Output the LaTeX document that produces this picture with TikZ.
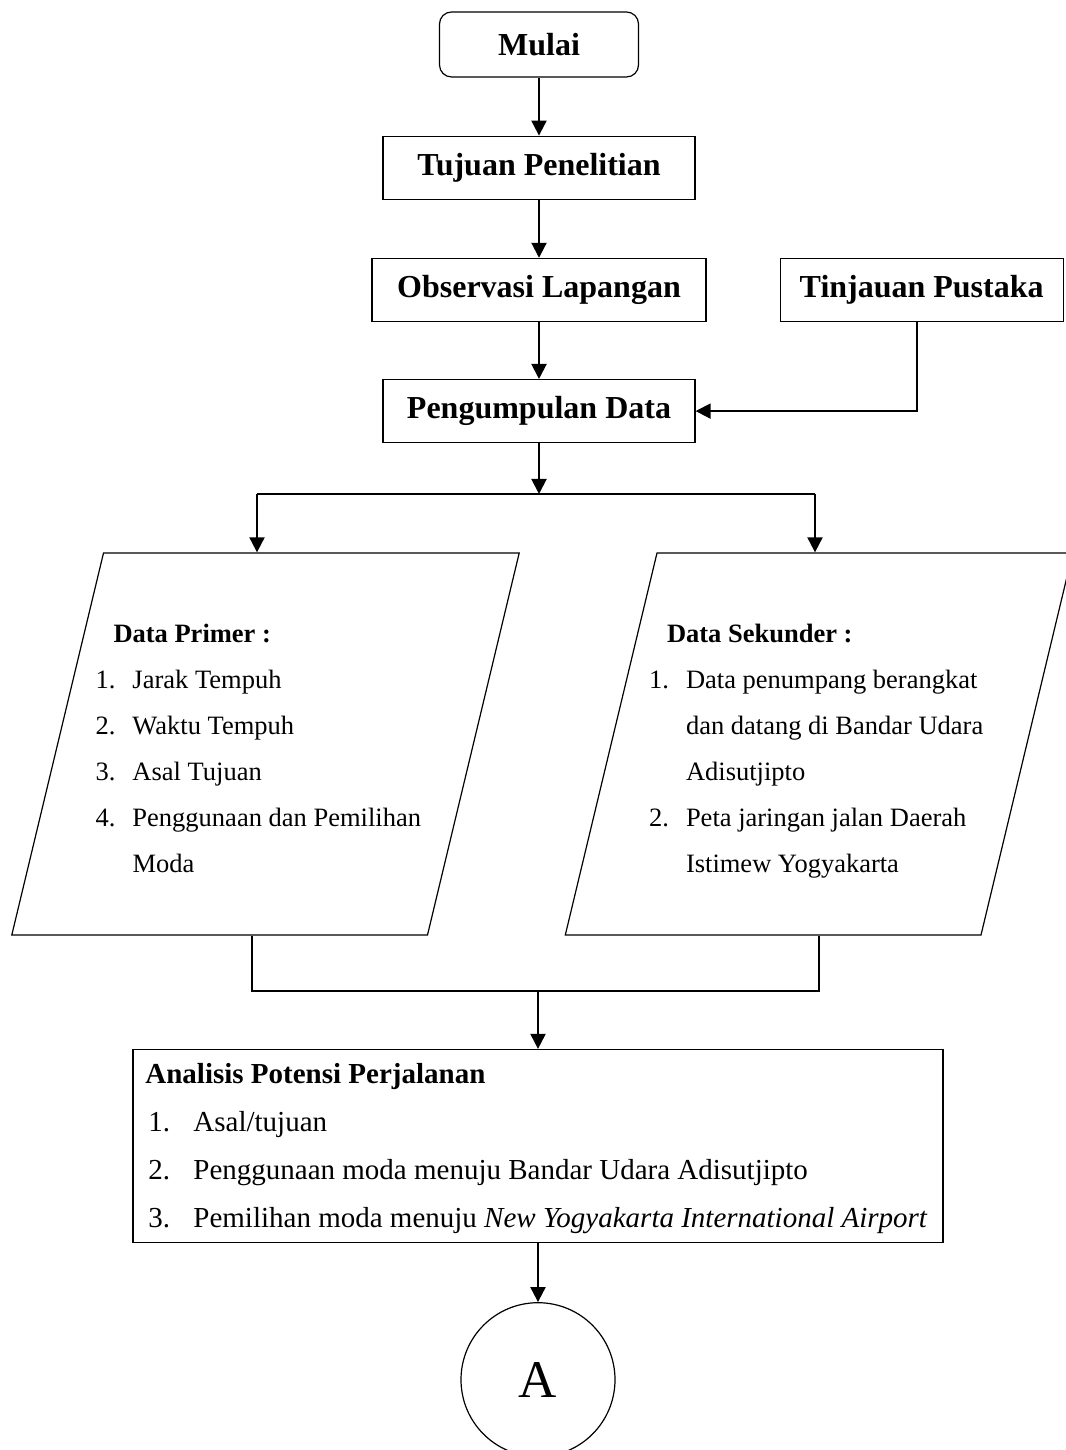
\documentclass[tikz,border=0pt]{standalone}
\usepackage{fontspec}
\setmainfont{Liberation Serif}
\usetikzlibrary{arrows.meta, graphs, positioning, shapes.geometric}

\begin{document}
\begin{tikzpicture}[x=1pt, y=1pt, node distance=58pt,
    >={Triangle[width=15pt,length=15pt]},
    box/.style={draw, line width=1.2pt, inner sep=0pt, minimum height=63pt,
        font=\fontsize{32}{38}\selectfont\bfseries},
    data/.style={draw, line width=1.2pt, trapezium, trapezium left angle=76.5,
        trapezium right angle=103.5, trapezium stretches body,
        minimum width=507pt, text height=202pt, text depth=180pt, inner sep=0pt,
        font=\fontsize{26.5}{46}\selectfont},
    flow/.style={line width=2pt}]
    \useasboundingbox (0,0) rectangle (1065,1450);

    \node[box, rounded corners=12pt, minimum width=199pt, minimum height=65pt] (Mulai) at (539,1405.5) {Mulai};
    \node[box, minimum width=312pt, below=of Mulai]         (Tujuan)      {Tujuan Penelitian};
    \node[box, minimum width=334pt, below=of Tujuan]        (Observasi)   {Observasi Lapangan};
    \node[box, minimum width=283pt, right=73pt of Observasi] (Tinjauan)   {Tinjauan Pustaka};
    \node[box, minimum width=312pt, below=57pt of Observasi] (Pengumpulan) {Pengumpulan Data};

    \node[data] (Primer) at (265.5,706) {\makebox[324pt][l]{\hspace*{-8pt}\begin{tabular}{@{}p{37pt}@{}l@{}}
        \multicolumn{2}{@{\hspace{18pt}}l@{}}{\bfseries Data Primer :}\\
        1. & Jarak Tempuh\\
        2. & Waktu Tempuh\\
        3. & Asal Tujuan\\
        4. & Penggunaan dan Pemilihan\\
           & Moda
    \end{tabular}}};
    \node[data] (Sekunder) at (819,706) {\makebox[324pt][l]{\hspace*{-8pt}\begin{tabular}{@{}p{37pt}@{}l@{}}
        \multicolumn{2}{@{\hspace{18pt}}l@{}}{\bfseries Data Sekunder :}\\
        1. & Data penumpang berangkat\\
           & dan datang di Bandar Udara\\
           & Adisutjipto\\
        2. & Peta jaringan jalan Daerah\\
           & Istimew Yogyakarta
    \end{tabular}}};

    \node[draw, line width=1.2pt, minimum width=810pt, minimum height=193pt, inner sep=0pt,
        font=\fontsize{29}{48}\selectfont] (Analisis) at (538,304) {\begin{tabular}{@{}p{45pt}@{}l@{}}
        \multicolumn{2}{@{\hspace{-3pt}}l@{}}{\bfseries Analisis Potensi Perjalanan}\\
        1. & Asal/tujuan\\
        2. & Penggunaan moda menuju Bandar Udara Adisutjipto\\
        3. & Pemilihan moda menuju \textit{New Yogyakarta International Airport}
    \end{tabular}};
    \node[draw, circle, line width=1.2pt, minimum size=154pt, inner sep=0pt,
        font=\fontsize{53}{60}\selectfont, below=59pt of Analisis] (Konektor) {A};

    \coordinate (Cabang Kiri)  at (257,956);
    \coordinate (Cabang Kanan) at (815,956);
    \coordinate (Gabung Kiri)  at (252,459);
    \coordinate (Gabung Kanan) at (819,459);

    \graph[edges=flow]{
        (Mulai) -> (Tujuan) -> (Observasi) -> (Pengumpulan);
    };
    \draw[flow, ->] ([xshift=-5pt]Tinjauan.south) |- (Pengumpulan);
    \draw[flow, ->] (Pengumpulan) -- (Pengumpulan |- Cabang Kiri);
    \draw[flow] (Cabang Kiri) -- (Cabang Kanan);
    \draw[flow, ->] (Cabang Kiri) -- (Cabang Kiri |- Primer.north);
    \draw[flow, ->] (Cabang Kanan) -- (Cabang Kanan |- Sekunder.north);
    \draw[flow] (Gabung Kiri |- Primer.south) -- (Gabung Kiri) -- (Gabung Kanan) -- (Gabung Kanan |- Sekunder.south);
    \draw[flow, ->] (Analisis |- Gabung Kiri) -- (Analisis);
    \draw[flow, ->] (Analisis) -- (Konektor);
\end{tikzpicture}
\end{document}
